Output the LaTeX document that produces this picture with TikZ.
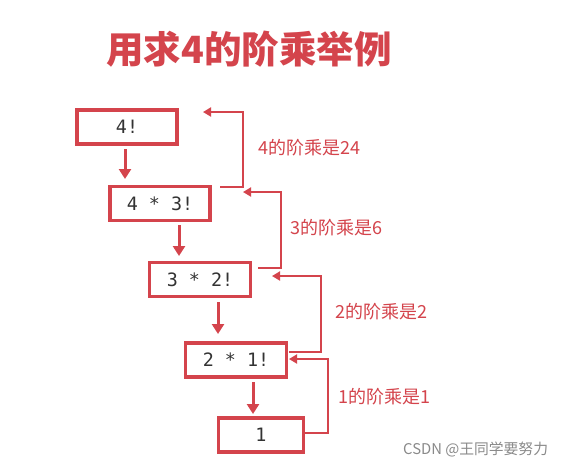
\documentclass[tikz,border=0pt]{standalone}
\usepackage{fontspec}
\setmainfont{Liberation Sans}
\newfontfamily\cjk{Noto Sans CJK SC}
\newfontfamily\monof{DejaVu Sans Mono}
\usetikzlibrary{arrows.meta}
\definecolor{redc}{HTML}{D4444C}
\definecolor{txtc}{HTML}{333333}
\definecolor{wmc}{HTML}{8A8A8A}
\tikzset{
  fbox/.style={draw=redc, line width=3.2pt, fill=white, minimum height=34pt, inner sep=0pt, font=\monof\fontsize{18.4}{18.4}\selectfont, text=txtc},
  down/.style={draw=redc, line width=3pt, -{Triangle[length=10pt,width=12pt]}},
  back/.style={draw=redc, line width=1.8pt, -{Triangle[length=8pt,width=9pt]}},
  lab/.style={text=redc, font=\cjk\fontsize{18}{18}\selectfont, anchor=west, inner sep=0pt}
}
\begin{document}
\begin{tikzpicture}[x=1pt,y=-1pt]
\useasboundingbox (0,0) rectangle (562,467);
\fill[white] (0,0) rectangle (562,467);
\node[text=redc, font=\cjk\bfseries\fontsize{37.5}{37.5}\selectfont, anchor=west, inner sep=0pt] (title) at (106,49) {用求4的阶乘举例};
\node[fbox, minimum width=100pt] (b1) at (127,127) {4!};
\node[fbox, minimum width=100pt] (b2) at (160,203.5) {4 * 3!};
\node[fbox, minimum width=101pt] (b3) at (200,279.5) {3 * 2!};
\node[fbox, minimum width=101pt] (b4) at (236,360) {2 * 1!};
\node[fbox, minimum width=85pt] (b5) at (261,435) {1};
% down connectors
\coordinate (d1s) at (125,149);
\coordinate (d1t) at (125,179);
\coordinate (d2s) at (179,225);
\coordinate (d2t) at (179,256);
\coordinate (d3s) at (218,302);
\coordinate (d3t) at (218,334);
\coordinate (d4s) at (253,382);
\coordinate (d4t) at (253,414);
\draw[down] (d1s) -- (d1t);
\draw[down] (d2s) -- (d2t);
\draw[down] (d3s) -- (d3t);
\draw[down] (d4s) -- (d4t);
% return connectors
\coordinate (r4s) at (220,187);
\coordinate (r4a) at (243,187);
\coordinate (r4b) at (243,112);
\coordinate (r4t) at (203,112);
\draw[back] (r4s) -- (r4a) -- (r4b) -- (r4t);
\coordinate (r3s) at (258,268);
\coordinate (r3a) at (281,268);
\coordinate (r3b) at (281,192);
\coordinate (r3t) at (243,192);
\draw[back] (r3s) -- (r3a) -- (r3b) -- (r3t);
\coordinate (r2s) at (289,352);
\coordinate (r2a) at (321,352);
\coordinate (r2b) at (321,276);
\coordinate (r2t) at (272,276);
\draw[back] (r2s) -- (r2a) -- (r2b) -- (r2t);
\coordinate (r1s) at (305,433);
\coordinate (r1a) at (328,433);
\coordinate (r1b) at (328,359);
\coordinate (r1t) at (289,359);
\draw[back] (r1s) -- (r1a) -- (r1b) -- (r1t);
\node[lab] (l4) at (258,148) {4的阶乘是24};
\node[lab] (l3) at (290,228) {3的阶乘是6};
\node[lab] (l2) at (335,312) {2的阶乘是2};
\node[lab] (l1) at (338,397) {1的阶乘是1};
\node[text=wmc, font=\cjk\fontsize{14.8}{14.8}\selectfont, anchor=west, inner sep=0pt] (wm) at (403,449) {CSDN @王同学要努力};
\end{tikzpicture}
\end{document}
